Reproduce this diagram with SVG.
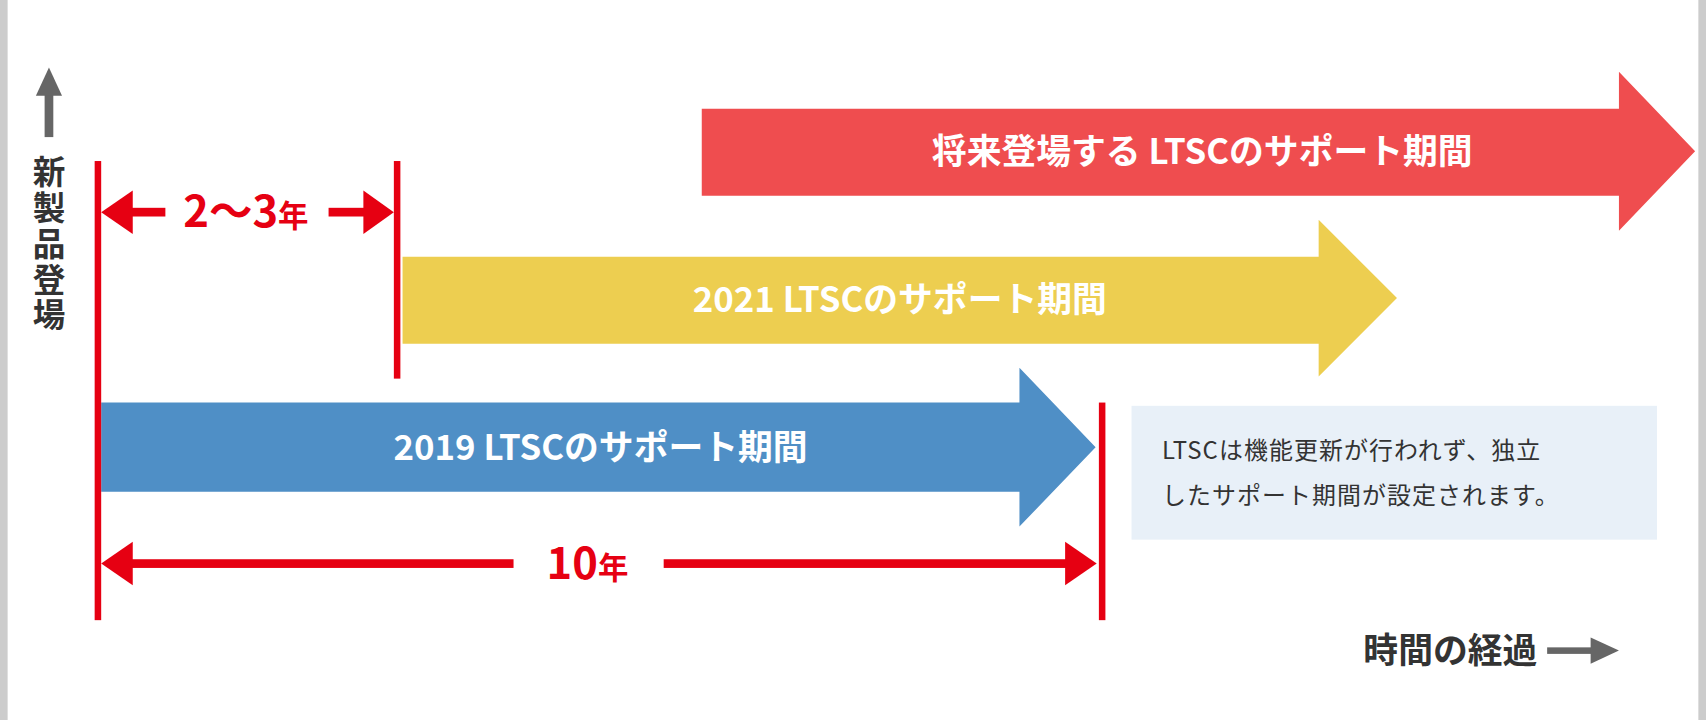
<svg xmlns="http://www.w3.org/2000/svg" width="1706" height="720" viewBox="0 0 1706 720">
<style>
.lbl{font-family:"Noto Sans CJK JP","Noto Sans",sans-serif;font-weight:bold;fill:#fff;font-size:32px;text-anchor:middle}
.red{font-family:"Noto Sans CJK JP","Noto Sans",sans-serif;font-weight:bold;fill:#e60012;font-size:40px;text-anchor:middle}
.dark{font-family:"Noto Sans CJK JP","Noto Sans",sans-serif;font-weight:bold;fill:#333;font-size:32px}
.vert{font-family:"Noto Sans CJK JP","Noto Sans",sans-serif;font-weight:bold;fill:#333;font-size:30px;text-anchor:middle}
.note{font-family:"Noto Sans CJK JP","Noto Sans",sans-serif;fill:#333;font-size:22px;letter-spacing:1px}
</style>
<rect width="1706" height="720" fill="#fff"/>
<g transform="scale(1.088)">
<rect x="0" y="0" width="7" height="662" fill="#cccccc"/>
<rect x="1561" y="0" width="8" height="662" fill="#cccccc"/>
<g id="future"><polygon points="645,100 1488,100 1488,66 1558,139 1488,212 1488,180 645,180" fill="#ef4d4f"/><text class="lbl" x="1105" y="151">将来登場する LTSCのサポート期間</text></g>
<g id="ltsc2021"><polygon points="370,236 1212,236 1212,202 1284,274 1212,346 1212,316 370,316" fill="#edce50"/><text class="lbl" x="827" y="287">2021 LTSCのサポート期間</text></g>
<g id="ltsc2019"><polygon points="93,370 937,370 937,338 1007,411 937,484 937,452 93,452" fill="#4f8fc6"/><text class="lbl" x="552" y="423">2019 LTSCのサポート期間</text></g>
<g id="note"><rect x="1040" y="373" width="483" height="123" fill="#e8f0f8"/><text class="note" x="1068" y="422">LTSCは機能更新が行われず、独立</text><text class="note" x="1068" y="463">したサポート期間が設定されます。</text></g>
<g id="axisY"><rect x="41" y="84" width="8" height="42" fill="#666"/><polygon points="33,88 45,62 57,88" fill="#666"/>
<text class="vert"><tspan x="45" y="169">新</tspan><tspan x="45" y="202">製</tspan><tspan x="45" y="235">品</tspan><tspan x="45" y="268">登</tspan><tspan x="45" y="301">場</tspan></text></g>
<g id="axisX"><text class="dark" x="1413" y="609" style="text-anchor:end">時間の経過</text><rect x="1422" y="595" width="45" height="6" fill="#666"/><polygon points="1462,586 1488,598 1462,610" fill="#666"/></g>
<g id="connectors" fill="#e60012">
<rect x="87" y="148" width="6" height="422"/><rect x="362" y="148" width="6" height="200"/><rect x="1010" y="370" width="6" height="200"/>
<polygon points="93,195 122,175 122,215"/><rect x="120" y="191" width="32" height="8"/>
<polygon points="362,195 334,175 334,215"/><rect x="302" y="191" width="34" height="8"/>
<polygon points="93,518 122,498 122,538"/><rect x="120" y="514" width="352" height="8"/>
<polygon points="1008,518 979,498 979,538"/><rect x="610" y="514" width="371" height="8"/>
</g>
<text class="red" x="226" y="209">2～3<tspan font-size="28px">年</tspan></text>
<text class="red" x="540" y="532">10<tspan font-size="28px">年</tspan></text>
</g>
</svg>
